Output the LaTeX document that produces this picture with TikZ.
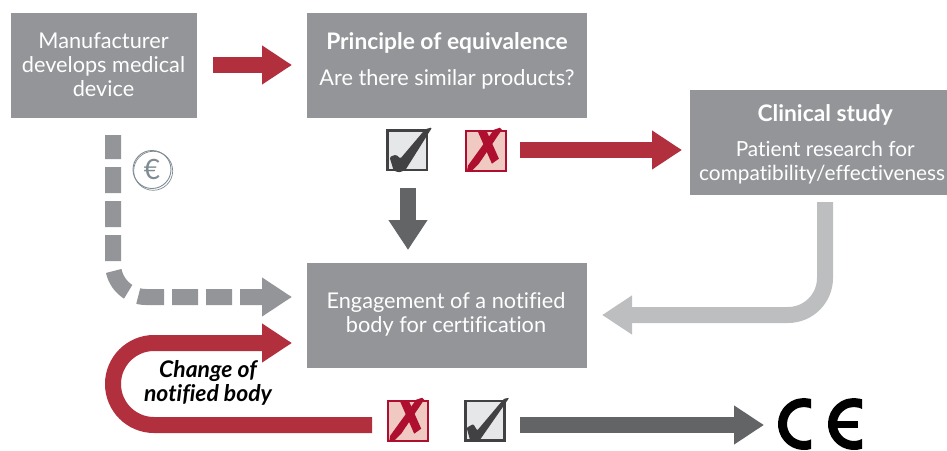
\documentclass[tikz,border=0pt]{standalone}
\usepackage{fontspec}
\setmainfont{Lato}[Ligatures={NoCommon}]
\usetikzlibrary{arrows.meta}
\definecolor{boxgray}{HTML}{939598}
\definecolor{arrred}{HTML}{B22F3E}
\definecolor{crossred}{HTML}{AE0F2E}
\definecolor{crossfill}{HTML}{EFC9C2}
\definecolor{tickdark}{HTML}{414042}
\definecolor{tickfill}{HTML}{E6E7E8}
\definecolor{arrdark}{HTML}{636466}
\definecolor{arrlight}{HTML}{BCBEC0}
\definecolor{euro}{HTML}{7F8C94}
\newcommand\headfont{\fontsize{22.8}{24}\selectfont\bfseries}
\tikzset{
  x=1pt,y=-1pt,
  flowbox/.style={fill=boxgray,text=white,align=center,inner sep=0pt,font=\fontsize{21.7}{24}\selectfont},
  bigarrow/.style={line width=16pt,-{Triangle[length=30pt,width=37pt]}},
  tickbox/.style={draw=tickdark,fill=tickfill,line width=2.6pt,minimum width=39.5pt,minimum height=39.5pt,inner sep=0pt},
  crossbox/.style={draw=crossred,fill=crossfill,line width=2.2pt,minimum width=40pt,minimum height=40pt,inner sep=0pt},
}
\begin{document}
\begin{tikzpicture}
\useasboundingbox (0,0) rectangle (947,450);
% boxes
\node[flowbox,minimum width=186pt,minimum height=105pt] (maker) at (104,65.5) {};
\node[flowbox] (makertext) at (103.5,65) {Manufacturer\\develops medical\\device};
\node[flowbox,minimum width=280pt,minimum height=105pt] (equiv) at (447,65.5) {};
\node[flowbox] (equivtext) at (447,61) {{\headfont Principle of equivalence}\\[12pt]Are there similar products?};
\node[flowbox,minimum width=257pt,minimum height=105pt] (study) at (818.5,142.5) {};
\node[flowbox,anchor=west,font=\fontsize{20.8}{24}\selectfont] (studytext) at (699,144) {\makebox[247pt][c]{\hspace{5pt}\headfont Clinical study}\\[11pt]\makebox[247pt][c]{\hspace{5pt}Patient research for}\\\makebox[247pt][l]{compatibility/effectiveness}};
\node[flowbox,minimum width=280pt,minimum height=105pt] (cert) at (447,315.5) {};
\node[flowbox] (certtext) at (446,314) {Engagement of a notified\\body for certification};
% check boxes
\node[tickbox] (tickA) at (407.3,150.3) {};
\node[crossbox] (crossA) at (486,150.8) {};
\node[crossbox] (crossB) at (408.3,420.8) {};
\node[tickbox] (tickB) at (485,420.8) {};
% free ends
\coordinate (a1s) at (213,65);
\coordinate (a1e) at (292,65);
\coordinate (a2s) at (520,150);
\coordinate (a2e) at (682,150);
\coordinate (a3s) at (408,188);
\coordinate (a3e) at (408,250);
\coordinate (d1) at (113,135);
\coordinate (d2) at (113,297);
\coordinate (d3) at (292,297);
\coordinate (l1) at (825,202);
\coordinate (l2) at (825,315);
\coordinate (l3) at (602,315);
\coordinate (u1) at (372,425);
\coordinate (u2) at (113,425);
\coordinate (u3) at (113,343);
\coordinate (u4) at (292,343);
\coordinate (f1) at (520,425);
\coordinate (f2) at (764,425);
% arrows
\draw[bigarrow,arrred] (a1s) -- (a1e);
\draw[bigarrow,arrred] (a2s) -- (a2e);
\draw[bigarrow,arrdark] (a3s) -- (a3e);
\draw[bigarrow,boxgray,rounded corners=33pt,dash pattern=on 26pt off 8pt on 26pt off 8pt on 26pt off 8pt on 26pt off 10pt on 26pt off 11pt on 26pt off 8pt on 26pt off 8pt on 26pt off 8pt on 26pt off 8pt,dash phase=2pt] (d1) -- (d2) -- (d3);
\draw[bigarrow,arrlight,rounded corners=37pt] (l1) -- (l2) -- (l3);
\draw[bigarrow,arrred,rounded corners=41pt] (u1) -- (u2) -- (u3) -- (u4);
\draw[bigarrow,arrdark] (f1) -- (f2);
% euro
\node[circle,draw=euro,line width=0.9pt,minimum size=38pt,inner sep=0pt,font=\fontsize{28}{28}\selectfont,text=euro] (coin) at (152,169.5) {€};
\draw[euro,line width=0.7pt] (153.2,170.8) circle[radius=19.5pt];
% label
\node[align=center,text=black,inner sep=0pt,font=\fontsize{22.9}{23.5}\selectfont\bfseries\itshape] (chg) at (208,383) {Change of\\notified body};
% ticks
\begin{scope}[shift={(tickA.north west)}]
\fill[tickdark,rounded corners=1.5pt] (3.3,27.7) -- (10,25.3) -- (14,29.5) -- (39,0) -- (46,-2) -- (19,41) -- (12.3,43.3) -- (7.3,41) -- cycle;
\end{scope}
\begin{scope}[shift={(tickB.north west)}]
\fill[tickdark,rounded corners=1pt] (2.7,28) -- (9.3,24.3) -- (13.3,30.7) -- (40,-1) -- (45.3,-2) -- (16,40) -- (11,42.3) -- (6,40) -- cycle;
\end{scope}
% crosses
\foreach \b in {crossA,crossB}{
\begin{scope}[shift={(\b.north west)}]
\fill[crossred] (29,0) -- (35,-2) -- (37,0) -- (14,34) -- (6,42) -- (2,42) -- (3,36) -- cycle;
\fill[crossred] (13,2) -- (22,2) -- (34,29) -- (27,34) -- cycle;
\end{scope}}
% CE mark
\begin{scope}
\clip (770,390) rectangle (811,455);
\draw[black,line width=9pt] (804,424) ++(60:21.5) arc[start angle=60,end angle=300,radius=21.5];
\end{scope}
\begin{scope}
\clip (820,390) rectangle (862,455);
\draw[black,line width=9pt] (854,424) ++(60:21.5) arc[start angle=60,end angle=300,radius=21.5];
\fill[black] (833,420.5) rectangle (858,427.5);
\end{scope}
\end{tikzpicture}
\end{document}
